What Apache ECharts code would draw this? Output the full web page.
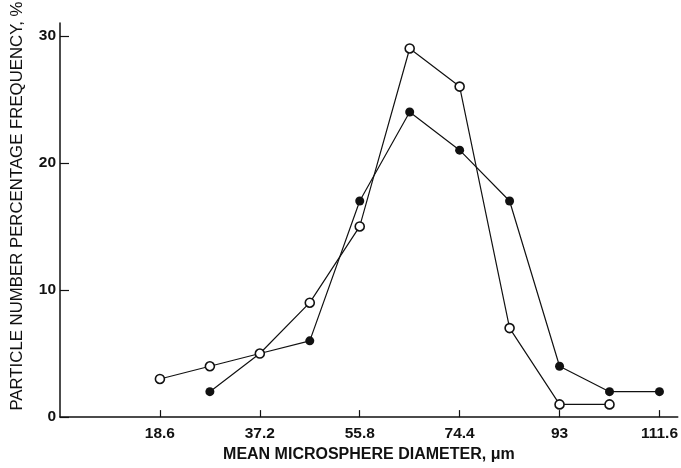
<!DOCTYPE html>
<html>
<head>
<meta charset="utf-8">
<script src="https://cdn.jsdelivr.net/npm/echarts@6/dist/echarts.min.js"></script>
<style>html,body{margin:0;padding:0;background:#fff}#c{width:681px;height:468px}</style>
</head>
<body>
<div id="c"></div>
<script>
var xTicks = [18.6, 37.2, 55.8, 74.4, 93, 111.6];
var xTickLabels = ['18.6', '37.2', '55.8', '74.4', '93', '111.6'];
var yTicks = [0, 10, 20, 30];
var openX = [18.6, 27.9, 37.2, 46.5, 55.8, 65.1, 74.4, 83.7, 93, 102.3];
var openY = [3, 4, 5, 9, 15, 29, 26, 7, 1, 1];
var filledX = [27.9, 37.2, 46.5, 55.8, 65.1, 74.4, 83.7, 93, 102.3, 111.6];
var filledY = [2, 5, 6, 17, 24, 21, 17, 4, 2, 2];
var xTitle = 'MEAN MICROSPHERE DIAMETER, \u03bcm';
var yTitle = 'PARTICLE NUMBER PERCENTAGE FREQUENCY, %';

function pairs(xs, ys) { return xs.map(function (x, i) { return [x, ys[i]]; }); }

var chart = echarts.init(document.getElementById('c'), null, { renderer: 'canvas' });
var fontFam = '"Liberation Sans", Arial, sans-serif';
chart.setOption({
  animation: false,
  backgroundColor: '#fff',
  grid: { left: 60, right: 1, top: 21, bottom: 48, containLabel: false },
  xAxis: {
    type: 'value', min: 0, max: 115,
    name: xTitle, nameLocation: 'middle', nameGap: 29,
    nameTextStyle: { fontFamily: fontFam, fontSize: 16, fontWeight: 'bold', color: '#111' },
    axisLine: { lineStyle: { color: '#111', width: 1.5 } },
    axisTick: { show: true, inside: true, length: 7, customValues: xTicks, lineStyle: { color: '#111', width: 1.2 } },
    axisLabel: {
      customValues: xTicks, margin: 9,
      fontFamily: fontFam, fontSize: 15.5, fontWeight: 'bold', color: '#111',
      formatter: function (v) {
        var i = xTicks.findIndex(function (t) { return Math.abs(t - v) < 1e-6; });
        return i >= 0 ? xTickLabels[i] : '';
      }
    },
    splitLine: { show: false }
  },
  yAxis: {
    type: 'value', min: 0, max: 31,
    name: yTitle, nameLocation: 'middle', nameGap: 34, nameRotate: 90,
    nameTextStyle: { fontFamily: fontFam, fontSize: 16.8, color: '#111', padding: [0, 0, 0, 28] },
    axisLine: { show: true, lineStyle: { color: '#111', width: 1.5 } },
    axisTick: { show: true, inside: true, length: 9, customValues: yTicks, lineStyle: { color: '#111', width: 1.2 } },
    axisLabel: { customValues: yTicks, margin: 4, fontFamily: fontFam, fontSize: 15.5, fontWeight: 'bold', color: '#111' },
    splitLine: { show: false }
  },
  series: [
    {
      type: 'line', data: pairs(openX, openY),
      symbol: 'circle', symbolSize: 9,
      lineStyle: { color: '#111', width: 1.2 },
      itemStyle: { color: '#fff', borderColor: '#111', borderWidth: 1.6 },
      z: 3
    },
    {
      type: 'line', data: pairs(filledX, filledY),
      symbol: 'circle', symbolSize: 9,
      lineStyle: { color: '#111', width: 1.2 },
      itemStyle: { color: '#111', borderColor: '#111', borderWidth: 0 },
      z: 2
    }
  ]
});
</script>
</body>
</html>
